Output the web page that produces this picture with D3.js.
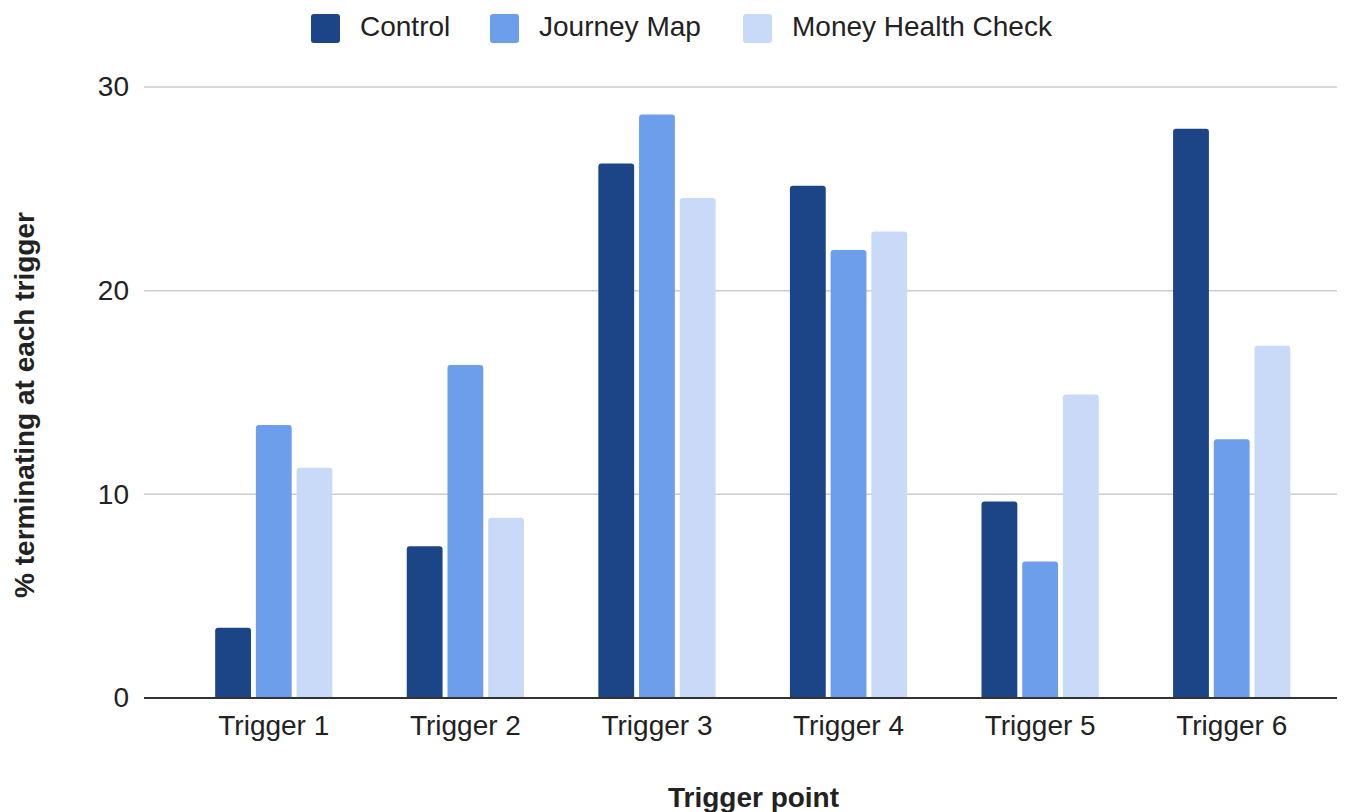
<!DOCTYPE html>
<html>
<head>
<meta charset="utf-8">
<script src="https://cdn.jsdelivr.net/npm/d3@7"></script>
<style>
  html, body { margin: 0; padding: 0; background: #fff; }
  svg { display: block; }
  text { font-family: "Liberation Sans", Arial, sans-serif; }
</style>
</head>
<body>
<svg id="chart" width="1350" height="812"></svg>
<script>
const categories = ["Trigger 1", "Trigger 2", "Trigger 3", "Trigger 4", "Trigger 5", "Trigger 6"];
const seriesNames = ["Control", "Journey Map", "Money Health Check"];
const control = [3.45, 7.45, 26.25, 25.15, 9.65, 27.95];
const journeyMap = [13.4, 16.35, 28.65, 22.0, 6.7, 12.7];
const moneyHealthCheck = [11.3, 8.85, 24.55, 22.9, 14.9, 17.3];
const yTicks = [0, 10, 20, 30];
const colors = ["#1c4587", "#6d9eeb", "#c9daf8"];

const seriesValues = [control, journeyMap, moneyHealthCheck];
const data = categories.map((c, i) => ({
  category: c,
  values: seriesNames.map((s, j) => ({ series: s, value: seriesValues[j][i], idx: j }))
}));

const FS = 28;
const svg = d3.select("#chart");
const plotLeft = 144, plotRight = 1337;
const y = d3.scaleLinear().domain([0, 30]).range([698, 87]);
const x0 = d3.scaleBand().domain(categories).range([178, 1327.5]).paddingInner(0.388).paddingOuter(0.194);
const x1 = d3.scaleBand().domain(seriesNames).range([0, x0.bandwidth()]).paddingInner(0.12);
const color = d3.scaleOrdinal().domain(seriesNames).range(colors);

// gridlines
svg.append("g").selectAll("line").data(yTicks.filter(d => d !== 0)).join("line")
  .attr("x1", plotLeft).attr("x2", plotRight)
  .attr("y1", d => y(d)).attr("y2", d => y(d))
  .attr("stroke", "#cccccc").attr("stroke-width", 1.5);

// y tick labels
const yAxis = d3.axisLeft(y).tickValues(yTicks).tickSize(0).tickPadding(15);
const yg = svg.append("g").attr("transform", `translate(${plotLeft},0)`).call(yAxis);
yg.select(".domain").remove();
yg.selectAll("text").attr("font-size", FS).attr("fill", "#222").attr("font-family", "Liberation Sans, Arial, sans-serif");

// bars with rounded top corners
function barPath(x, yTop, w, yBot, r) {
  r = Math.min(r, (yBot - yTop), w / 2);
  return `M${x},${yBot}V${yTop + r}Q${x},${yTop} ${x + r},${yTop}H${x + w - r}Q${x + w},${yTop} ${x + w},${yTop + r}V${yBot}Z`;
}
const groups = svg.append("g").selectAll("g").data(data).join("g")
  .attr("transform", d => `translate(${x0(d.category)},0)`);
groups.selectAll("path").data(d => d.values).join("path")
  .attr("d", d => barPath(x1(d.series), y(d.value), x1.bandwidth(), y(0), 3))
  .attr("fill", d => color(d.series));

// zero baseline
svg.append("line").attr("x1", plotLeft).attr("x2", plotRight)
  .attr("y1", y(0)).attr("y2", y(0)).attr("stroke", "#333").attr("stroke-width", 2);

// x axis labels
const xAxis = d3.axisBottom(x0).tickSize(0).tickPadding(17);
const xg = svg.append("g").attr("transform", `translate(0,${y(0)})`).call(xAxis);
xg.select(".domain").remove();
xg.selectAll("text").attr("font-size", FS).attr("fill", "#222").attr("font-family", "Liberation Sans, Arial, sans-serif");

// axis titles
svg.append("text").attr("x", 753.5).attr("y", 807).attr("text-anchor", "middle")
  .attr("font-size", FS).attr("font-weight", "bold").attr("fill", "#222").text("Trigger point");
svg.append("text").attr("transform", "translate(34,405) rotate(-90)").attr("text-anchor", "middle")
  .attr("font-size", FS).attr("font-weight", "bold").attr("fill", "#222").text("% terminating at each trigger");

// legend
const legendX = [311, 490, 743];
const lg = svg.append("g").selectAll("g").data(seriesNames).join("g")
  .attr("transform", (d, i) => `translate(${legendX[i]},14)`);
lg.append("rect").attr("width", 29).attr("height", 29).attr("rx", 3).attr("fill", d => color(d));
lg.append("text").attr("x", 49).attr("y", 22).attr("font-size", FS).attr("fill", "#222").text(d => d);
</script>
</body>
</html>
